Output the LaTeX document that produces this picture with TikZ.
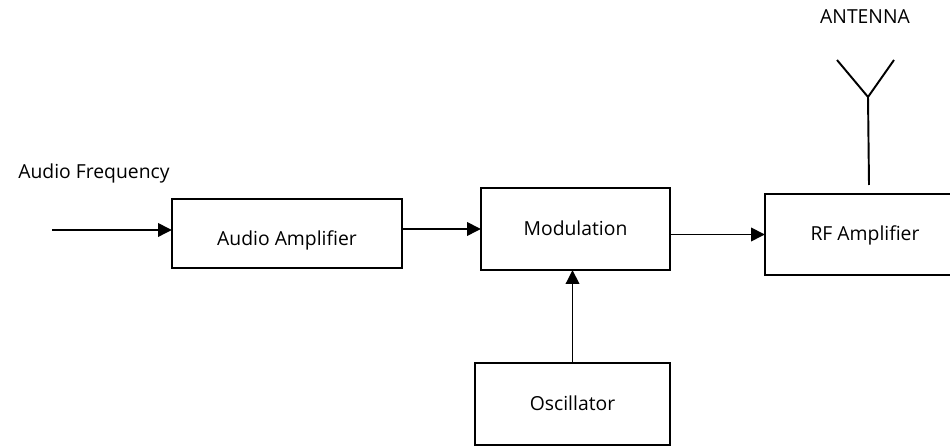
\documentclass[tikz,border=0pt]{standalone}
\usepackage{fontspec}
\setmainfont{Open Sans}
\usetikzlibrary{arrows.meta,calc}

\tikzset{
	block/.style={draw, line width=1.1pt, rectangle, inner sep=0pt, outer sep=0pt,
		text height=1.33ex, text depth=0pt, font=\fontsize{11}{13}\selectfont},
	arr/.style={line width=1.1pt, -{Triangle[length=0.28cm, width=0.27cm]}},
	wire/.style={line width=1.1pt},
	lbl/.style={inner sep=0pt, font=\fontsize{11}{13}\selectfont}
}

\begin{document}
\begin{tikzpicture}
		\useasboundingbox (0,0) rectangle (19,8.92);
		\clip (0,0) rectangle (19,8.92);

		% blocks
		\node[block, minimum width=4.6cm, minimum height=1.38cm, text height=1.33ex+0.24cm] (audioamp) at (5.74, 4.25) {Audio Amplifier};
		\node[block, minimum width=3.78cm, minimum height=1.64cm] (modulation) at (11.51, 4.34) {Modulation};
		\node[block, minimum width=4.0cm, minimum height=1.62cm] (rfamp) at (17.30, 4.23) {RF Amplifier};
		\node[block, minimum width=3.9cm, minimum height=1.64cm] (oscillator) at (11.45, 0.84) {Oscillator};

		% input and antenna points
		\coordinate (afin) at (1.04, 4.32);
		\coordinate (feed) at (17.38, 5.22);
		\coordinate (apex) at (17.36, 6.98);
		\coordinate (armleft) at (16.74, 7.72);
		\coordinate (armright) at (17.88, 7.72);

		% connectors
		\draw[arr] (afin) -- (afin -| audioamp.west);
		\draw[arr] (audioamp.east |- modulation.west) -- (modulation.west);
		\draw[arr] (modulation.east |- rfamp.west) -- (rfamp.west);
		\draw[arr] (oscillator.north) -- (oscillator.north |- modulation.south);

		% antenna
		\draw[wire] (feed) -- (apex);
		\draw[wire] (armleft) -- (apex) -- (armright);

		% labels
		\node[lbl, anchor=base west] (aflabel) at (0.36, 5.34) {Audio Frequency};
		\node[lbl, anchor=base] (antlabel) at (17.30, 8.44) {ANTENNA};
	\end{tikzpicture}
\end{document}
